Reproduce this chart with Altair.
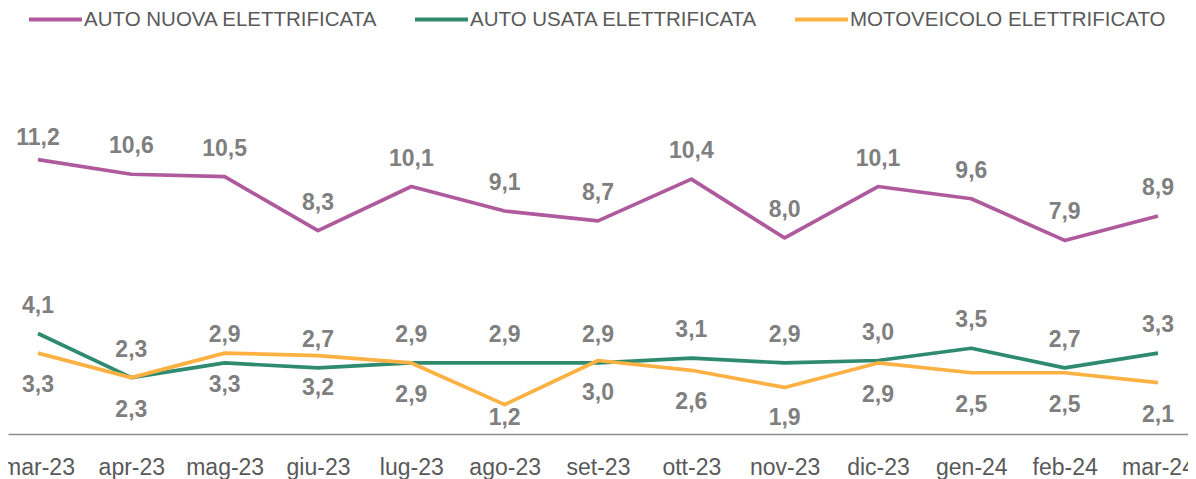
import altair as alt
import pandas as pd

months = ["mar-23", "apr-23", "mag-23", "giu-23", "lug-23", "ago-23", "set-23",
          "ott-23", "nov-23", "dic-23", "gen-24", "feb-24", "mar-24"]
series = ["AUTO NUOVA ELETTRIFICATA", "AUTO USATA ELETTRIFICATA", "MOTOVEICOLO ELETTRIFICATO"]
auto_nuova = [11.2, 10.6, 10.5, 8.3, 10.1, 9.1, 8.7, 10.4, 8.0, 10.1, 9.6, 7.9, 8.9]
auto_usata = [4.1, 2.3, 2.9, 2.7, 2.9, 2.9, 2.9, 3.1, 2.9, 3.0, 3.5, 2.7, 3.3]
moto = [3.3, 2.3, 3.3, 3.2, 2.9, 1.2, 3.0, 2.6, 1.9, 2.9, 2.5, 2.5, 2.1]
colors = ["#AF5A9C", "#2E8B70", "#FCB142"]

rows = []
for s, vals in zip(series, [auto_nuova, auto_usata, moto]):
    for m, v in zip(months, vals):
        rows.append({"mese": m, "serie": s, "valore": v})
df = pd.DataFrame(rows)

FONT = "Liberation Sans"
yscale = alt.Scale(domain=[0, 16.61], nice=False, zero=True)
xenc = alt.X(
    "mese:N", sort=months,
    scale=alt.Scale(type="point", padding=0.3214),
    axis=alt.Axis(title=None, labelAngle=0, labelFont=FONT, labelFontSize=23,
                  labelColor="#595959", domainColor="#8C8C8C", domainWidth=1.5,
                  ticks=False, tickSize=0, labelPadding=22, grid=False),
)

lines = alt.Chart(df).mark_line(strokeWidth=3.7, strokeJoin="round").encode(
    x=xenc,
    y=alt.Y("valore:Q", scale=yscale, axis=None),
    color=alt.Color("serie:N", sort=series,
                    scale=alt.Scale(domain=series, range=colors),
                    legend=alt.Legend(title=None, orient="none", direction="horizontal",
                                      legendX=19, legendY=-36, symbolType="stroke",
                                      symbolSize=2809, symbolStrokeWidth=4,
                                      labelFont=FONT, labelFontSize=20.5,
                                      labelColor="#595959", labelOffset=0,
                                      columnPadding=29, labelLimit=500)),
)

labels = alt.Chart(df).transform_calculate(
    testo="replace(format(datum.valore, '.1f'), '.', ',')",
    ypos="datum.serie == 'MOTOVEICOLO ELETTRIFICATO' ? max(datum.valore - 1.31, 0.66) : min(datum.valore + 1.14, 12.1)",
).mark_text(font=FONT, fontWeight="bold", fontSize=23, color="#7F7F7F",
            baseline="middle").encode(
    x=xenc,
    y=alt.Y("ypos:Q", scale=yscale, axis=None),
    text="testo:N",
)

chart = alt.layer(lines, labels).properties(
    width=1180, height=407, autosize="none",
    padding={"left": 0, "right": 0, "top": 19, "bottom": 45},
    background="white",
).configure_view(stroke=None)

chart.save("out.html", embed_options={"renderer": "svg", "actions": False})
